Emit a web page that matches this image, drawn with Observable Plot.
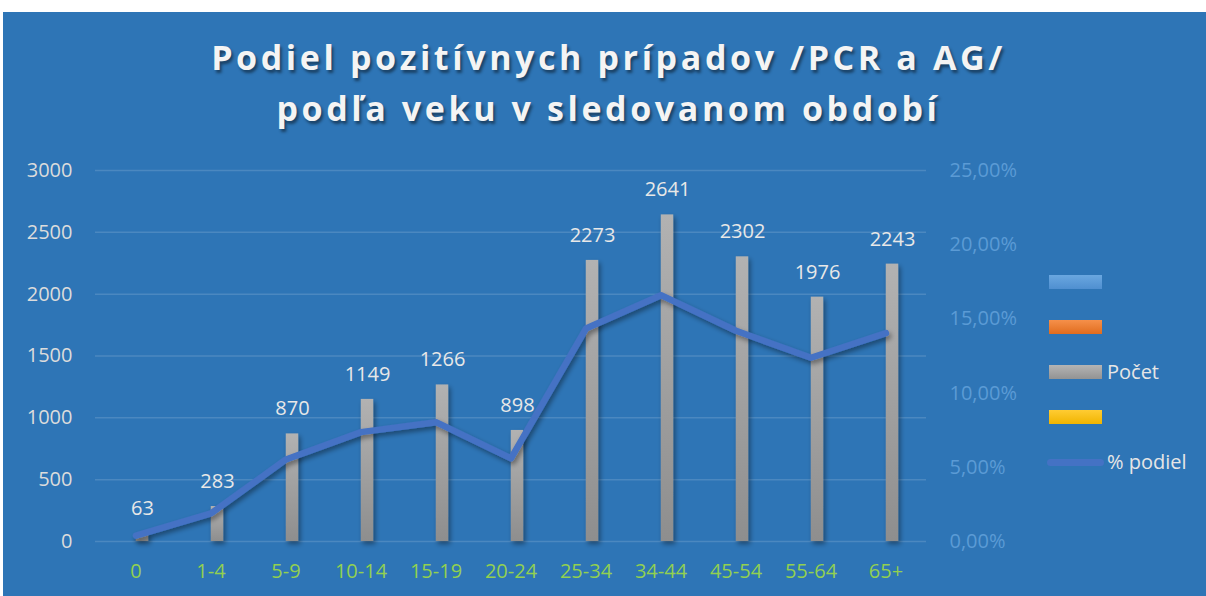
<!DOCTYPE html>
<html>
<head>
<meta charset="utf-8">
<script src="https://cdn.jsdelivr.net/npm/d3@7"></script>
<script src="https://cdn.jsdelivr.net/npm/@observablehq/plot@0.6"></script>
<style>
  body { margin: 0; background: #ffffff; width: 1206px; height: 596px; overflow: hidden; }
  #panel { position: absolute; left: 3px; top: 12px; width: 1203px; height: 584px; background: #2e75b6; overflow: hidden; }
  #title { position: absolute; left: 4px; width: 100%; top: 20px; text-align: center; font-family: "Open Sans", sans-serif; font-weight: 700; font-size: 34px; line-height: 51px; letter-spacing: 3.6px; color: #f4f4f4; text-shadow: 2px 3px 3px rgba(0,0,0,0.45); }
  #chart { position: absolute; left: -3px; top: 138px; }
  .sw { position: absolute; width: 53px; height: 14px; }
  .lg { position: absolute; font-family: "Open Sans", sans-serif; font-size: 20px; color: #e6e6e6; line-height: 24px; }
</style>
</head>
<body>
<div id="panel">
  <div id="title">Podiel pozitívnych prípadov /PCR a AG/<br>podľa veku v sledovanom období</div>
  <div id="chart"></div>
  <div class="sw" style="left:1046px;top:263px;background:linear-gradient(#6aa7e0,#4f8fd0);"></div>
  <div class="sw" style="left:1046px;top:308px;background:linear-gradient(#f5904a,#e06c1e);"></div>
  <div class="sw" style="left:1046px;top:353px;background:linear-gradient(#b4b4b4,#939393);"></div>
  <div class="lg" style="left:1104px;top:348px;">Počet</div>
  <div class="sw" style="left:1046px;top:398px;background:linear-gradient(#ffcc33,#f0b400);"></div>
  <div class="sw" style="left:1044px;top:447px;width:57px;height:7px;border-radius:4px;background:#4472c4;"></div>
  <div class="lg" style="left:1104px;top:438px;">% podiel</div>
</div>
<script>
const categories = ["0", "1-4", "5-9", "10-14", "15-19", "20-24", "25-34", "34-44", "45-54", "55-64", "65+"];
const counts = [63, 283, 870, 1149, 1266, 898, 2273, 2641, 2302, 1976, 2243];
const shares = [0.40, 1.89, 5.53, 7.37, 8.04, 5.6, 14.35, 16.6, 14.2, 12.38, 14.04]; // percent
const leftTicks = [0, 500, 1000, 1500, 2000, 2500, 3000];
const rightTickLabels = ["0,00%", "5,00%", "10,00%", "15,00%", "20,00%", "25,00%"];
const rightMax = 25; // percent at top of right axis
const leftMax = 3000;

const data = categories.map((c, i) => ({cat: c, count: counts[i], share: shares[i], shareScaled: shares[i] / rightMax * leftMax}));
const rightTicks = rightTickLabels.map((t, i) => i * 5 / rightMax * leftMax);

const bw = (1206 - 95 - 280) / categories.length;

const plot = Plot.plot({
  width: 1206,
  height: 446,
  marginLeft: 95,
  marginRight: 280,
  marginTop: 20,
  marginBottom: 55,
  style: {background: "transparent", fontFamily: "Open Sans, sans-serif", fontSize: "20px", overflow: "visible"},
  x: {domain: categories, padding: 0, label: null},
  y: {domain: [0, leftMax], label: null},
  marks: [
    Plot.gridY(leftTicks, {stroke: "#ffffff", strokeOpacity: 0.14, strokeWidth: 1.5}),
    Plot.barY(data, {x: "cat", y: "count", fill: "url(#barGrad)", insetLeft: bw / 2, insetRight: bw / 2 - 13}),
    Plot.line(data, {x: "cat", y: "shareScaled", stroke: "#4472c4", strokeWidth: 6.5, strokeLinecap: "round", strokeLinejoin: "round"}),
    Plot.text(data, {x: "cat", y: "count", text: d => String(d.count), dx: 6.5, dy: -25, fill: "#e8e8e8", fontSize: 20}),
    Plot.axisY(leftTicks, {anchor: "left", tickSize: 0, tickPadding: 23, fill: "#dcdcdc", fontSize: 20, label: null, tickFormat: d => String(d)}),
    Plot.axisY(rightTicks, {anchor: "right", tickSize: 0, tickPadding: 23, fill: "#5b9bd5", fontSize: 20, label: null, tickFormat: (d, i) => rightTickLabels[i]}),
    Plot.axisX({tickSize: 0, tickPadding: 22, fill: "#92d050", fontSize: 20, label: null})
  ]
});

const svg = d3.select(plot);
const defs = svg.insert("defs", ":first-child");
const g = defs.append("linearGradient").attr("id", "barGrad").attr("x1", 0).attr("y1", 0).attr("x2", 0).attr("y2", 1);
g.append("stop").attr("offset", "0%").attr("stop-color", "#b2b2b2");
g.append("stop").attr("offset", "100%").attr("stop-color", "#8e8e8e");
const f = defs.append("filter").attr("id", "shadow").attr("x", "-20%").attr("y", "-20%").attr("width", "160%").attr("height", "160%");
f.append("feDropShadow").attr("dx", 2).attr("dy", 3).attr("stdDeviation", 2.5).attr("flood-color", "#000").attr("flood-opacity", 0.4);
svg.selectAll('g[aria-label="bar"]').attr("filter", "url(#shadow)");
svg.selectAll('g[aria-label="line"]').attr("filter", "url(#shadow)");

document.getElementById("chart").appendChild(plot);
</script>
</body>
</html>
